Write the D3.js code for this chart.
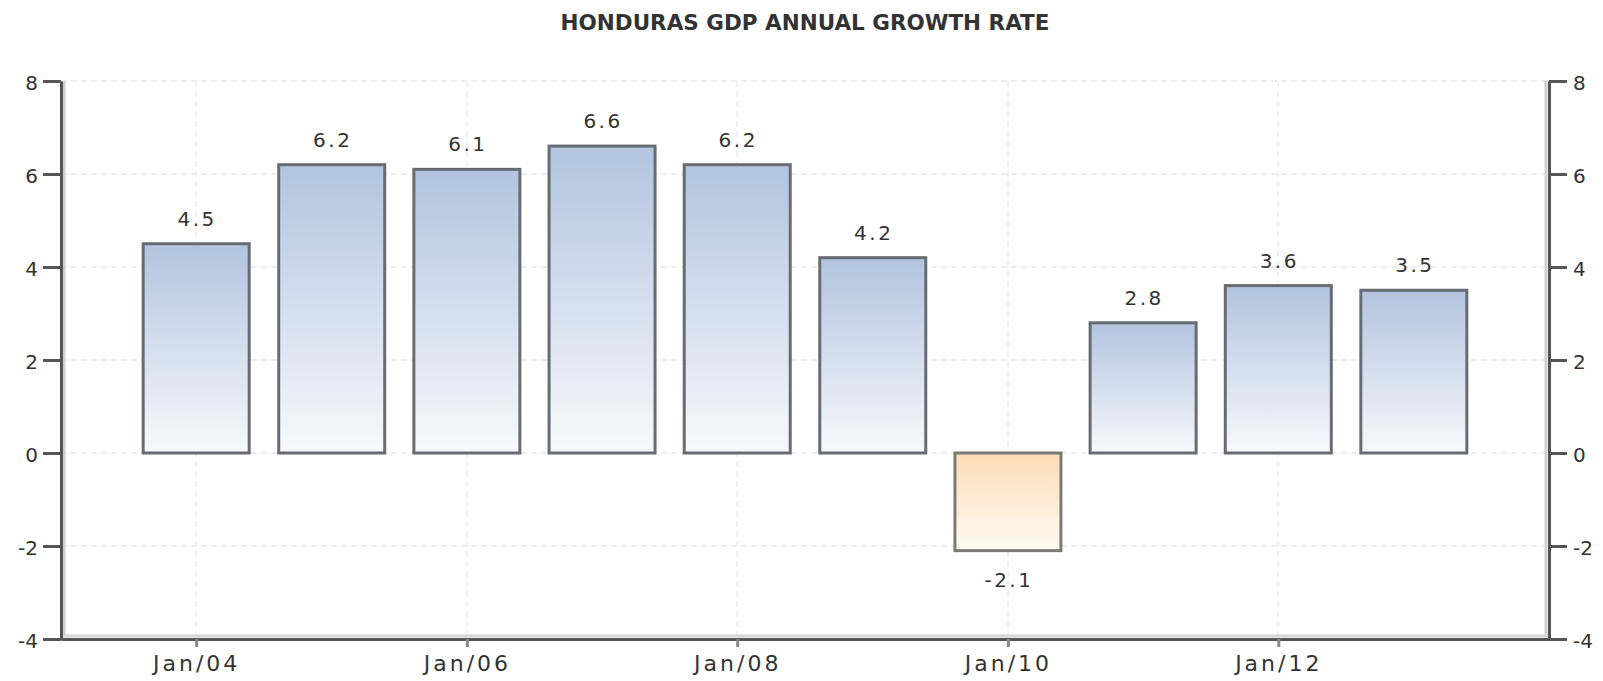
<!DOCTYPE html>
<html>
<head>
<meta charset="utf-8">
<script src="https://cdn.jsdelivr.net/npm/d3@7"></script>
<style>
  body { margin: 0; background: #fff; }
  text { font-family: "DejaVu Sans", Verdana, sans-serif; fill: #333; }
  .title { font-size: 21.5px; font-weight: bold; }
  .tick text { font-size: 20px; }
  .xaxis .tick text { font-size: 22px; letter-spacing: 3px; }
  .barLabel { font-size: 20px; letter-spacing: 2.5px; }
</style>
</head>
<body>
<div class="chart"></div>
<script>
// chart data
var years = [2004, 2005, 2006, 2007, 2008, 2009, 2010, 2011, 2012, 2013];
var growth = [4.5, 6.2, 6.1, 6.6, 6.2, 4.2, -2.1, 2.8, 3.6, 3.5];
var yTicks = [-4, -2, 0, 2, 4, 6, 8];
var xTickYears = [2004, 2006, 2008, 2010, 2012];
var xTickLabels = ["Jan/04", "Jan/06", "Jan/08", "Jan/10", "Jan/12"];
var chartTitle = "HONDURAS GDP ANNUAL GROWTH RATE";

var svgWidth = 1603;
var svgHeight = 681;

var margin = {
  top: 81,
  right: 54,
  bottom: 42,
  left: 61
};

var width = svgWidth - margin.left - margin.right;
var height = svgHeight - margin.top - margin.bottom;

var svg = d3.select(".chart")
  .append("svg")
  .attr("width", svgWidth)
  .attr("height", svgHeight);

// gradients for the bars
var defs = svg.append("defs");
var blue = defs.append("linearGradient")
  .attr("id", "gradPos")
  .attr("x1", 0).attr("y1", 0).attr("x2", 0).attr("y2", 1);
blue.append("stop").attr("offset", "0%").attr("stop-color", "#b2c4df");
blue.append("stop").attr("offset", "100%").attr("stop-color", "#f7f9fd");

var orange = defs.append("linearGradient")
  .attr("id", "gradNeg")
  .attr("x1", 0).attr("y1", 0).attr("x2", 0).attr("y2", 1);
orange.append("stop").attr("offset", "0%").attr("stop-color", "#fcdcb8");
orange.append("stop").attr("offset", "100%").attr("stop-color", "#fffbf1");

var chartGroup = svg.append("g")
  .attr("transform", `translate(${margin.left}, ${margin.top})`);

var data = years.map(function (y, i) {
  return { date: new Date(y, 0, 1), value: growth[i] };
});

// scales
var xTimeScale = d3.scaleTime()
  .domain([new Date(2003, 0, 1), new Date(2014, 0, 1)])
  .range([0, width]);

var yLinearScale = d3.scaleLinear()
  .domain([-4, 8])
  .range([height, 0]);

var barWidth = 106;

// grid lines
chartGroup.append("g")
  .selectAll("line")
  .data(yTicks)
  .enter()
  .append("line")
  .attr("x1", 0)
  .attr("x2", width)
  .attr("y1", d => yLinearScale(d))
  .attr("y2", d => yLinearScale(d))
  .attr("stroke", "#ededed")
  .attr("stroke-width", 2)
  .attr("stroke-dasharray", "6,4");

chartGroup.append("g")
  .selectAll("line")
  .data(xTickYears)
  .enter()
  .append("line")
  .attr("x1", d => xTimeScale(new Date(d, 0, 1)))
  .attr("x2", d => xTimeScale(new Date(d, 0, 1)))
  .attr("y1", 0)
  .attr("y2", height)
  .attr("stroke", "#f0f0f0")
  .attr("stroke-width", 2)
  .attr("stroke-dasharray", "6,4");

// bars
chartGroup.selectAll(".bar")
  .data(data)
  .enter()
  .append("rect")
  .attr("class", "bar")
  .attr("x", d => xTimeScale(d.date) - barWidth / 2)
  .attr("width", barWidth)
  .attr("y", d => yLinearScale(Math.max(0, d.value)))
  .attr("height", d => Math.abs(yLinearScale(d.value) - yLinearScale(0)))
  .attr("fill", d => d.value < 0 ? "url(#gradNeg)" : "url(#gradPos)")
  .attr("stroke", d => d.value < 0 ? "#7d7a76" : "#676b72")
  .attr("stroke-width", 3);

// value labels (plain hyphen for negatives, as in the source)
chartGroup.selectAll(".barLabel")
  .data(data)
  .enter()
  .append("text")
  .attr("class", "barLabel")
  .attr("text-anchor", "middle")
  .attr("x", d => xTimeScale(d.date) + 1)
  .attr("y", d => d.value < 0 ? yLinearScale(d.value) + 36 : yLinearScale(d.value) - 18)
  .text(d => d.value.toFixed(1));

// axes
var bottomAxis = d3.axisBottom(xTimeScale)
  .tickValues(xTickYears.map(y => new Date(y, 0, 1)))
  .tickFormat((d, i) => xTickLabels[i])
  .tickSize(8)
  .tickPadding(8)
  .tickSizeOuter(0);
var leftAxis = d3.axisLeft(yLinearScale)
  .tickValues(yTicks)
  .tickFormat(d => String(d))
  .tickSize(18)
  .tickPadding(5)
  .tickSizeOuter(0);
var rightAxis = d3.axisRight(yLinearScale)
  .tickValues(yTicks)
  .tickFormat(d => String(d))
  .tickSize(18)
  .tickPadding(6)
  .tickSizeOuter(0);

// light inner shading next to the axis lines
chartGroup.append("line")
  .attr("x1", 3).attr("x2", 3).attr("y1", 0).attr("y2", height - 3)
  .attr("stroke", "#d0d0d0").attr("stroke-width", 3);
chartGroup.append("line")
  .attr("x1", width - 3).attr("x2", width - 3).attr("y1", 0).attr("y2", height - 3)
  .attr("stroke", "#d0d0d0").attr("stroke-width", 3);
chartGroup.append("line")
  .attr("x1", 0).attr("x2", width).attr("y1", height - 3).attr("y2", height - 3)
  .attr("stroke", "#d6d6d6").attr("stroke-width", 3);

var xAxisG = chartGroup.append("g")
  .attr("class", "xaxis")
  .attr("transform", `translate(0, ${height})`)
  .call(bottomAxis);

var yAxisG = chartGroup.append("g")
  .call(leftAxis);

var y2AxisG = chartGroup.append("g")
  .attr("transform", `translate(${width}, 0)`)
  .call(rightAxis);

[xAxisG, yAxisG, y2AxisG].forEach(function (g) {
  g.select(".domain").attr("stroke", "#555").attr("stroke-width", 3);
  g.selectAll(".tick line").attr("stroke", "#555").attr("stroke-width", 3);
  g.selectAll(".tick text").attr("fill", "#333");
});
yAxisG.selectAll(".tick text").attr("dy", "0.4em");
y2AxisG.selectAll(".tick text").attr("dy", "0.4em");
xAxisG.selectAll(".tick line").attr("stroke", "#888");

// title
svg.append("text")
  .attr("class", "title")
  .attr("text-anchor", "middle")
  .attr("x", margin.left + width / 2)
  .attr("y", 30)
  .text(chartTitle);
</script>
</body>
</html>
